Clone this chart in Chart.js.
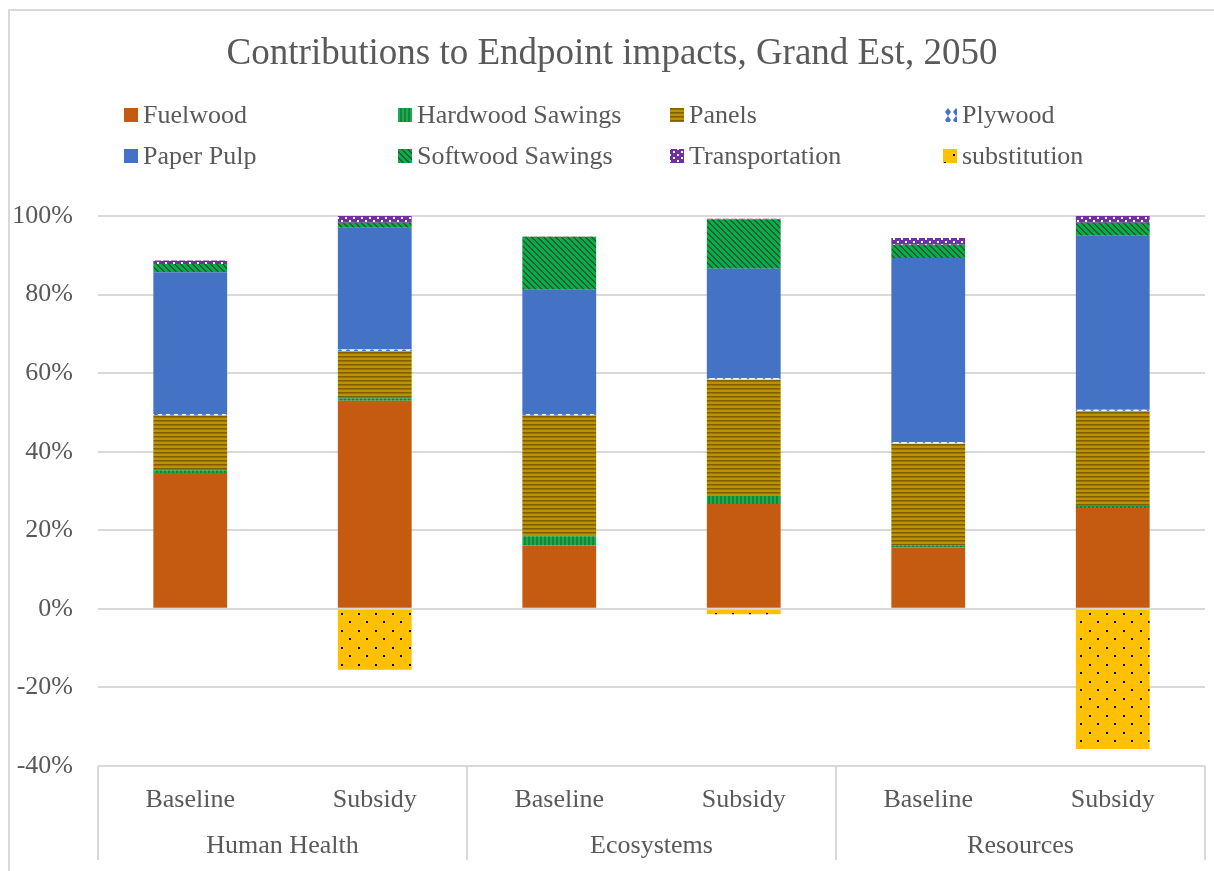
<!DOCTYPE html>
<html lang="en">
<head>
<meta charset="UTF-8">
<title>Contributions to Endpoint impacts, Grand Est, 2050</title>
<script src="https://cdn.jsdelivr.net/npm/chart.js"></script>
<style>
    body { margin: 0; background: #fff; }
    #wrap { position: relative; width: 1214px; height: 871px; }
    #frame { position: absolute; left: 8px; top: 9px; right: 0; bottom: -10px; border-left: 2px solid #d9d9d9; border-top: 2px solid #d9d9d9; pointer-events: none; }
</style>
</head>
<body>
<div id="wrap">
    <canvas id="chart" width="1214" height="871"></canvas>
    <div id="frame"></div>
</div>
<script>
    // categories
    const scenarios = ['Baseline', 'Subsidy', 'Baseline', 'Subsidy', 'Baseline', 'Subsidy'];
    const groups = ['Human Health', 'Ecosystems', 'Resources'];
    const yTicks = [100, 80, 60, 40, 20, 0, -20, -40];

    // series values (% of total)
    const fuelwood     = [34.6, 53.0, 16.1, 26.7, 15.6, 25.7];
    const hardwood     = [0.7, 0.6, 2.4, 2.0, 0.6, 0.5];
    const panels       = [13.9, 12.0, 30.7, 29.6, 25.8, 24.1];
    const plywood      = [0.4, 0.4, 0.4, 0.4, 0.4, 0.4];
    const paperPulp    = [36.1, 31.0, 31.6, 27.9, 46.9, 44.3];
    const softwood     = [2.1, 1.3, 13.5, 12.6, 3.4, 3.3];
    const transport    = [0.9, 1.7, 0.1, 0.1, 1.7, 1.9];
    const substitution = [0, -15.5, 0, -1.4, 0, -35.7];

    const FONT = '"Liberation Serif", "Times New Roman", serif';
    const TEXT = '#595959';

    // small pattern helper
    function pattern(w, h, draw) {
        const c = document.createElement('canvas');
        c.width = w; c.height = h;
        const g = c.getContext('2d');
        draw(g);
        return g.createPattern(c, 'repeat');
    }

    const ctx = document.getElementById('chart').getContext('2d');

    const hardwoodFill = pattern(4, 4, g => {
        g.fillStyle = '#22a94c'; g.fillRect(0, 0, 4, 4);
        g.fillStyle = '#14873a'; g.fillRect(0, 0, 2, 4);
    });
    const panelsFill = pattern(4, 4, g => {
        g.fillStyle = '#bf9000'; g.fillRect(0, 0, 4, 4);
        g.fillStyle = '#7f6000'; g.fillRect(0, 0, 4, 1);
        g.fillStyle = '#9a7400'; g.fillRect(0, 1, 4, 1);
    });
    const plywoodFill = pattern(8, 8, g => {
        g.fillStyle = '#ffffff'; g.fillRect(0, 0, 8, 8);
        g.fillStyle = '#4472c4';
        g.beginPath(); g.moveTo(1, 0); g.lineTo(7, 0); g.lineTo(4, 4); g.closePath(); g.fill();
        g.beginPath(); g.moveTo(1, 8); g.lineTo(7, 8); g.lineTo(4, 4); g.closePath(); g.fill();
    });
    const softwoodFill = pattern(6, 6, g => {
        g.fillStyle = '#00b050'; g.fillRect(0, 0, 6, 6);
        g.fillStyle = '#375623';
        for (let i = 0; i < 6; i++) {
            g.fillRect(i, i, 1, 1);
            g.fillRect((i + 1) % 6, i, 1, 1);
        }
    });
    const transportFill = pattern(8, 6, g => {
        g.fillStyle = '#7030a0'; g.fillRect(0, 0, 8, 6);
        g.fillStyle = '#ffffff';
        g.fillRect(1, 1, 2, 2);
        g.fillRect(5, 4, 2, 2);
    });
    const substitutionFill = pattern(17, 17, g => {
        g.fillStyle = '#ffc000'; g.fillRect(0, 0, 17, 17);
        g.fillStyle = '#000000';
        g.fillRect(1, 1, 2, 2);
        g.fillRect(9, 9, 2, 2);
    });

    const datasets = [
        { label: 'Fuelwood', data: fuelwood, backgroundColor: '#c55a11' },
        { label: 'Hardwood Sawings', data: hardwood, backgroundColor: hardwoodFill },
        { label: 'Panels', data: panels, backgroundColor: panelsFill },
        { label: 'Plywood', data: plywood, backgroundColor: plywoodFill },
        { label: 'Paper Pulp', data: paperPulp, backgroundColor: '#4472c4' },
        { label: 'Softwood Sawings', data: softwood, backgroundColor: softwoodFill },
        { label: 'Transportation', data: transport, backgroundColor: transportFill },
        { label: 'substitution', data: substitution, backgroundColor: substitutionFill }
    ];

    // title + 4-column legend, drawn like the Excel original
    const legendColumns = [124, 398, 670, 943];
    const legendRows = [115, 156];
    const headerPlugin = {
        id: 'header',
        afterDraw(chart) {
            const c = chart.ctx;
            c.save();
            c.fillStyle = TEXT;
            c.textAlign = 'center';
            c.textBaseline = 'middle';
            c.font = '37px ' + FONT;
            c.fillText('Contributions to Endpoint impacts, Grand Est, 2050', 612, 54);
            c.font = '26px ' + FONT;
            c.textAlign = 'left';
            chart.data.datasets.forEach((ds, i) => {
                const x = legendColumns[i % 4];
                const y = legendRows[Math.floor(i / 4)];
                c.fillStyle = ds.backgroundColor;
                c.fillRect(x, y - 7, 14, 14);
                c.fillStyle = TEXT;
                c.fillText(ds.label, x + 19, y + 1);
            });
            c.restore();
        }
    };

    // second level of the category axis: group names and separators
    const groupAxisPlugin = {
        id: 'groupAxis',
        afterDraw(chart) {
            const c = chart.ctx;
            const xs = chart.scales.x;
            const area = chart.chartArea;
            c.save();
            c.strokeStyle = '#d9d9d9';
            c.lineWidth = 2;
            const edges = [area.left];
            groups.forEach((g, i) => {
                const a = xs.getPixelForValue(i * 2);
                const b = xs.getPixelForValue(i * 2 + 1);
                if (i < groups.length - 1) {
                    edges.push((b + xs.getPixelForValue(i * 2 + 2)) / 2);
                }
                c.fillStyle = TEXT;
                c.font = '26px ' + FONT;
                c.textAlign = 'center';
                c.textBaseline = 'middle';
                c.fillText(g, (a + b) / 2, 846);
            });
            edges.push(area.right);
            edges.forEach(x => {
                c.beginPath();
                c.moveTo(Math.round(x), area.bottom);
                c.lineTo(Math.round(x), 860);
                c.stroke();
            });
            c.restore();
        }
    };

    new Chart(ctx, {
        type: 'bar',
        data: { labels: scenarios, datasets },
        options: {
            responsive: false,
            animation: false,
            layout: { padding: { top: 216, right: 9, left: 0, bottom: 0 } },
            datasets: { bar: { categoryPercentage: 1, barPercentage: 0.4, borderWidth: 0 } },
            plugins: { legend: { display: false }, title: { display: false }, tooltip: { enabled: false } },
            scales: {
                x: {
                    stacked: true,
                    grid: { display: false },
                    border: { display: false },
                    ticks: { color: TEXT, font: { family: FONT, size: 26 }, padding: 11, maxRotation: 0 },
                    afterFit(scale) { scale.height = 105; }
                },
                y: {
                    stacked: true,
                    min: -40,
                    max: 100,
                    afterBuildTicks(scale) { scale.ticks = yTicks.map(v => ({ value: v })); },
                    grid: { color: '#d9d9d9', lineWidth: 2, drawTicks: false },
                    border: { display: false },
                    ticks: {
                        color: TEXT,
                        font: { family: FONT, size: 26 },
                        padding: 25,
                        callback: v => v + '%'
                    },
                    afterFit(scale) { scale.width = 98; }
                }
            }
        },
        plugins: [headerPlugin, groupAxisPlugin]
    });
</script>
</body>
</html>
